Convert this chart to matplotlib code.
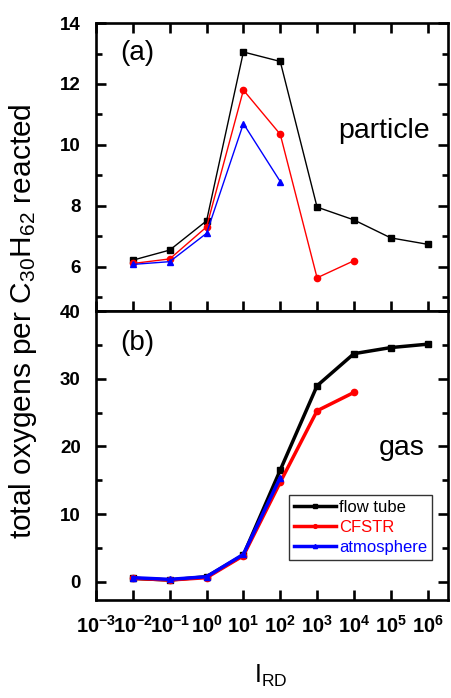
import matplotlib
matplotlib.use('Agg')
import matplotlib.pyplot as plt
import numpy as np

plt.rcParams['font.family'] = ['Liberation Sans', 'DejaVu Sans']
plt.rcParams['mathtext.fontset'] = 'custom'
plt.rcParams['mathtext.rm'] = 'Liberation Sans'
plt.rcParams['mathtext.it'] = 'Liberation Sans:italic'
plt.rcParams['mathtext.bf'] = 'Liberation Sans:bold'

# I_RD exponents
exp_ft = [-2, -1, 0, 1, 2, 3, 4, 5, 6]
exp_cf = [-2, -1, 0, 1, 2, 3, 4]
exp_at = [-2, -1, 0, 1, 2]

# (a) particle
part_ft = [6.22, 6.55, 7.51, 13.05, 12.74, 7.96, 7.54, 6.95, 6.74]
part_cf = [6.11, 6.26, 7.31, 11.80, 10.35, 5.64, 6.20]
part_at = [6.08, 6.17, 7.10, 10.70, 8.80]

# (b) gas
gas_ft = [0.5, 0.25, 0.74, 3.95, 16.5, 28.96, 33.7, 34.6, 35.1]
gas_cf = [0.5, 0.25, 0.6, 3.85, 14.7, 25.26, 27.97]
gas_at = [0.6, 0.35, 0.74, 4.05, 15.4]

x_ft = 10.0 ** np.array(exp_ft)
x_cf = 10.0 ** np.array(exp_cf)
x_at = 10.0 ** np.array(exp_at)

fig = plt.figure(figsize=(4.51, 6.98), dpi=100)
ax1 = fig.add_axes([0.213, 0.5544, 0.780, 0.4126])
ax2 = fig.add_axes([0.213, 0.1404, 0.780, 0.4140])

def style(ax):
    ax.set_xscale('log')
    ax.set_xlim(10 ** -3, 10 ** 6.55)
    for s in ax.spines.values():
        s.set_linewidth(1.9)
    ax.tick_params(which='major', direction='in', length=7, width=1.9,
                   top=True, right=True, labelsize=13.5)
    ax.tick_params(axis='y', pad=11)
    ax.tick_params(axis='x', pad=11)
    ax.tick_params(which='minor', direction='in', length=4, width=1.9,
                   top=True, right=True)
    ax.xaxis.set_minor_locator(matplotlib.ticker.NullLocator())
    ax.set_xticks(10.0 ** np.arange(-3, 7))

# top panel
ax1.plot(x_ft, part_ft, color='black', lw=1.0, marker='s', ms=4)
ax1.plot(x_cf, part_cf, color='red', lw=1.0, marker='o', ms=4.5)
ax1.plot(x_at, part_at, color='blue', lw=1.0, marker='^', ms=5)
style(ax1)
ax1.set_ylim(4.55, 14)
ax1.set_yticks([6, 8, 10, 12, 14])
ax1.set_yticks([5, 7, 9, 11, 13], minor=True)
ax1.set_yticklabels(['6', '8', '10', '12', '14'], fontweight='bold')
ax1.tick_params(labelbottom=False)
ax1.text(0.07, 0.895, '(a)', transform=ax1.transAxes, fontsize=20, va='center')
ax1.text(0.948, 0.625, 'particle', transform=ax1.transAxes, fontsize=20.5,
         ha='right', va='center')

# bottom panel
ax2.plot(x_ft, gas_ft, color='black', lw=2.5, marker='s', ms=4, label='flow tube')
ax2.plot(x_cf, gas_cf, color='red', lw=2.5, marker='o', ms=4.5, label='CFSTR')
ax2.plot(x_at, gas_at, color='blue', lw=2.5, marker='^', ms=5, label='atmosphere')
style(ax2)
ax2.tick_params(which='both', top=False)
ax2.set_ylim(-2.7, 40)
ax2.set_yticks([0, 10, 20, 30, 40])
ax2.set_yticks([5, 15, 25, 35], minor=True)
ax2.set_yticklabels(['0', '10', '20', '30', '40'], fontweight='bold')
ax2.set_xticklabels([r'$\mathbf{10^{%d}}$' % e for e in range(-3, 7)], fontsize=14.5)
ax2.text(0.07, 0.89, '(b)', transform=ax2.transAxes, fontsize=20, va='center')
ax2.text(0.935, 0.527, 'gas', transform=ax2.transAxes, fontsize=20.5,
         ha='right', va='center')
leg = ax2.legend(loc='lower right', bbox_to_anchor=(0.955, 0.14), fontsize=12,
                 frameon=True, fancybox=False, edgecolor='black', handlelength=2.5,
                 handletextpad=0.2, borderpad=0.3, labelspacing=0.3,
                 markerscale=0.6, borderaxespad=0)
leg.get_frame().set_linewidth(1.0)
for txt, c in zip(leg.get_texts(), ['black', 'red', 'blue']):
    txt.set_color(c)

fig.text(0.051, 0.54, r'total oxygens per C$_{30}$H$_{62}$ reacted', rotation=90,
         fontsize=21.5, ha='center', va='center')
fig.text(0.6, 0.032, r'I$_{\mathrm{RD}}$', fontsize=18, ha='center', va='center')

fig.savefig('out.png', dpi=100)
